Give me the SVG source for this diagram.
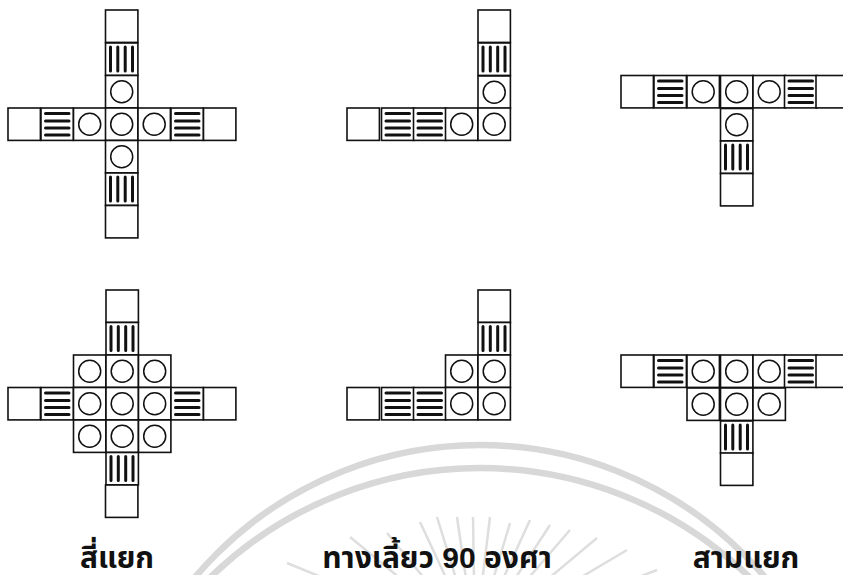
<svg xmlns="http://www.w3.org/2000/svg" width="843" height="575" viewBox="0 0 843 575">
<style>
.c{fill:#fff;stroke:#111;stroke-width:1.6}
.o{fill:none;stroke:#111;stroke-width:1.5}
.b{stroke:#111;stroke-width:3;stroke-linecap:round}
.w{fill:none;stroke:#d8d8d8;stroke-width:6.500}
.r{fill:none;stroke:#dedede;stroke-width:2.500}
.bg{fill:none}
text{font-family:"Liberation Sans","Noto Sans Thai","Noto Sans",sans-serif;font-size:30px;font-weight:700;fill:#111;text-anchor:middle}
</style>
<defs>
<g id="cell"><rect class="c" width="32.4" height="32.4"/></g>
<g id="cir"><rect class="c" width="32.4" height="32.4"/><circle class="o" cx="16.2" cy="16.2" r="11"/></g>
<g id="hs"><rect class="c" width="32.4" height="32.4"/><path class="b" d="M4.500 5.500H28M4.500 13H28M4.500 20H28M4.500 27H28"/></g>
<g id="vs"><rect class="c" width="32.4" height="32.4"/><path class="b" d="M5 4V28M12.300 4V28M19.700 4V28M27 4V28"/></g>
</defs>
<g id="watermark">
<circle class="w" cx="480" cy="818" r="373"/>
<circle class="w" cx="480" cy="855" r="387"/>
<path class="r" d="M287 563L475 640M350 537L475 640M387 533L475 640M420 522L475 640M437 517L475 640M457 517L475 640M473 517L475 640M490 517L475 640M510 523L475 640M530 520L475 640M550 525L475 640M570 530L475 640M597 538L475 640M627 550L475 640M657 570L475 640"/>
</g>
<g id="cross-a">
<use href="#cell" x="105.500" y="10"/><use href="#vs" x="105.500" y="43"/><use href="#cir" x="105.500" y="75.500"/>
<use href="#cell" x="8" y="108"/><use href="#hs" x="41" y="108"/><use href="#cir" x="73.500" y="108"/><use href="#cir" x="105.500" y="108"/><use href="#cir" x="138" y="108"/><use href="#hs" x="171" y="108"/><use href="#cell" x="203.500" y="108"/>
<use href="#cir" x="105.500" y="140.500"/><use href="#vs" x="105.500" y="173"/><use href="#cell" x="105.500" y="205.500"/>
</g>
<g id="cross-b">
<use href="#cell" x="106" y="290"/><use href="#vs" x="106" y="322.500"/>
<use href="#cir" x="73.500" y="355"/><use href="#cir" x="106" y="355"/><use href="#cir" x="138.500" y="355"/>
<use href="#cell" x="8" y="387.500"/><use href="#hs" x="41" y="387.500"/><use href="#cir" x="73.500" y="387.500"/><use href="#cir" x="106" y="387.500"/><use href="#cir" x="138.500" y="387.500"/><use href="#hs" x="171" y="387.500"/><use href="#cell" x="203.500" y="387.500"/>
<use href="#cir" x="73.500" y="420"/><use href="#cir" x="106" y="420"/><use href="#cir" x="138.500" y="420"/>
<use href="#vs" x="106" y="452.500"/><use href="#cell" x="105.500" y="485"/>
</g>
<g id="turn-a">
<use href="#cell" x="478" y="10"/><use href="#vs" x="478" y="43"/><use href="#cir" x="478" y="76"/>
<use href="#cell" x="347" y="108"/><use href="#hs" x="381.500" y="108"/><use href="#hs" x="413.500" y="108"/><use href="#cir" x="445.500" y="108"/><use href="#cir" x="478" y="108"/>
</g>
<g id="turn-b">
<use href="#cell" x="478" y="290"/><use href="#vs" x="478" y="322.500"/>
<use href="#cir" x="445.500" y="355"/><use href="#cir" x="478" y="355"/>
<use href="#cell" x="347" y="387.500"/><use href="#hs" x="381.500" y="387.500"/><use href="#hs" x="413.500" y="387.500"/><use href="#cir" x="445.500" y="387.500"/><use href="#cir" x="478" y="387.500"/>
</g>
<g id="tee-a">
<use href="#cell" x="621" y="75.500"/><use href="#hs" x="654" y="75.500"/><use href="#cir" x="687" y="75.500"/><use href="#cir" x="720.500" y="75.500"/><use href="#cir" x="753" y="75.500"/><use href="#hs" x="784.500" y="75.500"/><use href="#cell" x="816" y="75.500"/>
<use href="#cir" x="720.500" y="108.500"/><use href="#vs" x="720.500" y="141"/><use href="#cell" x="720.500" y="173.500"/>
</g>
<g id="tee-b">
<use href="#cell" x="621" y="355"/><use href="#hs" x="654" y="355"/><use href="#cir" x="687" y="355"/><use href="#cir" x="720.500" y="355"/><use href="#cir" x="753" y="355"/><use href="#hs" x="784.500" y="355"/><use href="#cell" x="816" y="355"/>
<use href="#cir" x="687" y="388"/><use href="#cir" x="720.500" y="388"/><use href="#cir" x="753" y="388"/>
<use href="#vs" x="720.500" y="421"/><use href="#cell" x="720.500" y="453"/>
</g>
<g id="labels">
<text x="117" y="568">สี่แยก</text>
<text x="437" y="568">ทางเลี้ยว 90 องศา</text>
<text x="746" y="568">สามแยก</text>
</g>
</svg>
